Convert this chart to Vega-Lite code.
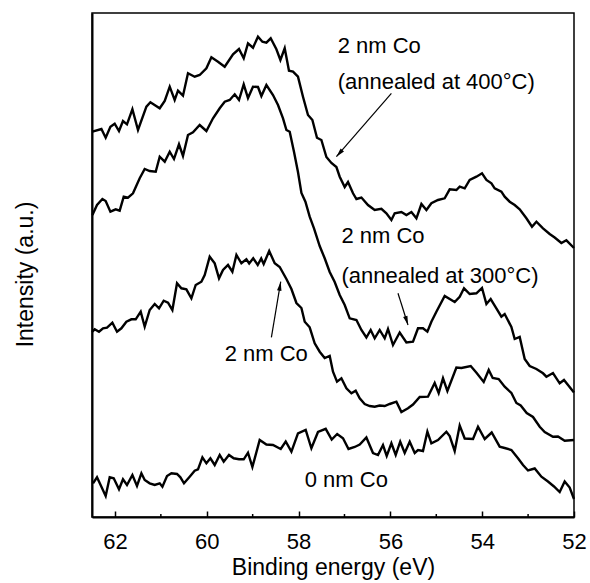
{
  "$schema": "https://vega.github.io/schema/vega-lite/v6.json",
  "width": 482,
  "height": 504,
  "autosize": {"type": "none"},
  "padding": {"left": 92, "top": 13, "right": 16, "bottom": 66},
  "background": "white",
  "config": {
    "view": {"stroke": "#000", "strokeWidth": 1.5},
    "font": "Liberation Sans"
  },
  "datasets": {
    "spectra": [
      {"s":"400C","E":62.491,"I":385.3},{"s":"400C","E":62.295,"I":388},{"s":"400C","E":62.202,"I":379.3},{"s":"400C","E":62.099,"I":390.3},{"s":"400C","E":62.006,"I":393.3},{"s":"400C","E":61.912,"I":386},{"s":"400C","E":61.825,"I":396},{"s":"400C","E":61.738,"I":392.7},{"s":"400C","E":61.62,"I":407.7},{"s":"400C","E":61.498,"I":387},{"s":"400C","E":61.315,"I":410.3},{"s":"400C","E":61.228,"I":414.7},{"s":"400C","E":61.025,"I":408.7},{"s":"400C","E":60.916,"I":416},{"s":"400C","E":60.807,"I":430.3},{"s":"400C","E":60.699,"I":417},{"s":"400C","E":60.627,"I":426.3},{"s":"400C","E":60.518,"I":421.3},{"s":"400C","E":60.409,"I":443.7},{"s":"400C","E":60.263,"I":440.3},{"s":"400C","E":60.154,"I":442},{"s":"400C","E":60.008,"I":448.7},{"s":"400C","E":59.899,"I":459.7},{"s":"400C","E":59.755,"I":455.3},{"s":"400C","E":59.609,"I":450.3},{"s":"400C","E":59.428,"I":462.7},{"s":"400C","E":59.298,"I":468},{"s":"400C","E":59.195,"I":458.7},{"s":"400C","E":59.102,"I":473.7},{"s":"400C","E":58.993,"I":469.3},{"s":"400C","E":58.884,"I":480.3},{"s":"400C","E":58.788,"I":475.3},{"s":"400C","E":58.701,"I":474.3},{"s":"400C","E":58.607,"I":478.7},{"s":"400C","E":58.483,"I":467.7},{"s":"400C","E":58.396,"I":457},{"s":"400C","E":58.302,"I":468.7},{"s":"400C","E":58.209,"I":446.3},{"s":"400C","E":58.121,"I":445.3},{"s":"400C","E":58.013,"I":440.3},{"s":"400C","E":57.904,"I":420.3},{"s":"400C","E":57.795,"I":402},{"s":"400C","E":57.699,"I":397},{"s":"400C","E":57.599,"I":379.3},{"s":"400C","E":57.503,"I":377},{"s":"400C","E":57.394,"I":360},{"s":"400C","E":57.285,"I":354},{"s":"400C","E":57.176,"I":350},{"s":"400C","E":57.104,"I":340.3},{"s":"400C","E":56.995,"I":330},{"s":"400C","E":56.923,"I":335},{"s":"400C","E":56.814,"I":323.7},{"s":"400C","E":56.74,"I":318},{"s":"400C","E":56.631,"I":319.5},{"s":"400C","E":56.488,"I":312},{"s":"400C","E":56.342,"I":307},{"s":"400C","E":56.196,"I":308.2},{"s":"400C","E":56.087,"I":303.7},{"s":"400C","E":55.978,"I":297},{"s":"400C","E":55.906,"I":303.7},{"s":"400C","E":55.76,"I":305},{"s":"400C","E":55.651,"I":302},{"s":"400C","E":55.542,"I":305},{"s":"400C","E":55.433,"I":298.7},{"s":"400C","E":55.324,"I":313},{"s":"400C","E":55.215,"I":307},{"s":"400C","E":55.107,"I":313.7},{"s":"400C","E":54.963,"I":317},{"s":"400C","E":54.817,"I":318.7},{"s":"400C","E":54.708,"I":327.7},{"s":"400C","E":54.562,"I":327},{"s":"400C","E":54.49,"I":330.3},{"s":"400C","E":54.381,"I":328.7},{"s":"400C","E":54.272,"I":337},{"s":"400C","E":54.126,"I":340.3},{"s":"400C","E":54.004,"I":343.7},{"s":"400C","E":53.908,"I":337},{"s":"400C","E":53.799,"I":333.7},{"s":"400C","E":53.728,"I":328.7},{"s":"400C","E":53.582,"I":325.3},{"s":"400C","E":53.51,"I":320.3},{"s":"400C","E":53.401,"I":315.3},{"s":"400C","E":53.292,"I":312},{"s":"400C","E":53.183,"I":307.7},{"s":"400C","E":53.037,"I":298.7},{"s":"400C","E":52.915,"I":290.3},{"s":"400C","E":52.819,"I":295.3},{"s":"400C","E":52.675,"I":288.7},{"s":"400C","E":52.53,"I":283},{"s":"400C","E":52.421,"I":279.5},{"s":"400C","E":52.275,"I":274},{"s":"400C","E":52.166,"I":276.7},{"s":"400C","E":52.0,"I":269},

      {"s":"300C","E":62.491,"I":302},{"s":"300C","E":62.391,"I":312},{"s":"300C","E":62.273,"I":318},{"s":"300C","E":62.202,"I":316},{"s":"300C","E":62.099,"I":305.3},{"s":"300C","E":61.984,"I":307.7},{"s":"300C","E":61.897,"I":306.3},{"s":"300C","E":61.809,"I":320.3},{"s":"300C","E":61.716,"I":319.3},{"s":"300C","E":61.607,"I":323.7},{"s":"300C","E":61.461,"I":338.7},{"s":"300C","E":61.352,"I":348},{"s":"300C","E":61.243,"I":346},{"s":"300C","E":61.112,"I":345.3},{"s":"300C","E":61.025,"I":360.3},{"s":"300C","E":60.916,"I":355.3},{"s":"300C","E":60.807,"I":365.3},{"s":"300C","E":60.714,"I":358},{"s":"300C","E":60.605,"I":372.7},{"s":"300C","E":60.518,"I":361},{"s":"300C","E":60.409,"I":382},{"s":"300C","E":60.3,"I":384.7},{"s":"300C","E":60.154,"I":392},{"s":"300C","E":60.008,"I":386},{"s":"300C","E":59.864,"I":398.7},{"s":"300C","E":59.718,"I":408.7},{"s":"300C","E":59.609,"I":415.3},{"s":"300C","E":59.5,"I":417},{"s":"300C","E":59.391,"I":422.7},{"s":"300C","E":59.298,"I":417},{"s":"300C","E":59.195,"I":432.7},{"s":"300C","E":59.102,"I":419},{"s":"300C","E":58.993,"I":430.3},{"s":"300C","E":58.884,"I":430},{"s":"300C","E":58.81,"I":421},{"s":"300C","E":58.701,"I":432},{"s":"300C","E":58.557,"I":422},{"s":"300C","E":58.448,"I":412},{"s":"300C","E":58.339,"I":398.7},{"s":"300C","E":58.265,"I":387},{"s":"300C","E":58.193,"I":385.3},{"s":"300C","E":58.1,"I":365.3},{"s":"300C","E":58.013,"I":345},{"s":"300C","E":57.938,"I":324},{"s":"300C","E":57.851,"I":315.3},{"s":"300C","E":57.758,"I":300.3},{"s":"300C","E":57.664,"I":288.7},{"s":"300C","E":57.54,"I":271},{"s":"300C","E":57.431,"I":258.7},{"s":"300C","E":57.322,"I":245},{"s":"300C","E":57.213,"I":235},{"s":"300C","E":57.104,"I":222},{"s":"300C","E":56.995,"I":212},{"s":"300C","E":56.886,"I":198.7},{"s":"300C","E":56.74,"I":197},{"s":"300C","E":56.631,"I":187},{"s":"300C","E":56.523,"I":179.5},{"s":"300C","E":56.429,"I":187},{"s":"300C","E":56.342,"I":178.7},{"s":"300C","E":56.233,"I":187},{"s":"300C","E":56.124,"I":178.7},{"s":"300C","E":56.052,"I":188},{"s":"300C","E":55.943,"I":172},{"s":"300C","E":55.797,"I":184.5},{"s":"300C","E":55.651,"I":174.5},{"s":"300C","E":55.507,"I":175.3},{"s":"300C","E":55.398,"I":188.7},{"s":"300C","E":55.29,"I":188.7},{"s":"300C","E":55.194,"I":185.3},{"s":"300C","E":55.107,"I":195.3},{"s":"300C","E":54.998,"I":205.3},{"s":"300C","E":54.817,"I":221},{"s":"300C","E":54.599,"I":215},{"s":"300C","E":54.49,"I":220.3},{"s":"300C","E":54.396,"I":228.7},{"s":"300C","E":54.272,"I":223},{"s":"300C","E":54.126,"I":223.7},{"s":"300C","E":54.004,"I":229},{"s":"300C","E":53.908,"I":213},{"s":"300C","E":53.815,"I":218},{"s":"300C","E":53.691,"I":208.7},{"s":"300C","E":53.582,"I":200.3},{"s":"300C","E":53.51,"I":203},{"s":"300C","E":53.364,"I":190},{"s":"300C","E":53.292,"I":178},{"s":"300C","E":53.183,"I":180},{"s":"300C","E":53.074,"I":158},{"s":"300C","E":52.965,"I":151},{"s":"300C","E":52.819,"I":148},{"s":"300C","E":52.675,"I":143.7},{"s":"300C","E":52.601,"I":140.3},{"s":"300C","E":52.458,"I":144},{"s":"300C","E":52.312,"I":133.7},{"s":"300C","E":52.218,"I":137},{"s":"300C","E":52.0,"I":124.5},

      {"s":"2nm","E":62.5,"I":185},{"s":"2nm","E":62.441,"I":187.7},{"s":"2nm","E":62.348,"I":185.3},{"s":"2nm","E":62.26,"I":188.7},{"s":"2nm","E":62.173,"I":189.3},{"s":"2nm","E":62.056,"I":194.3},{"s":"2nm","E":61.955,"I":185.3},{"s":"2nm","E":61.86,"I":188.7},{"s":"2nm","E":61.751,"I":195.3},{"s":"2nm","E":61.642,"I":197.7},{"s":"2nm","E":61.548,"I":197.7},{"s":"2nm","E":61.439,"I":205.3},{"s":"2nm","E":61.352,"I":190.3},{"s":"2nm","E":61.243,"I":207},{"s":"2nm","E":61.134,"I":213},{"s":"2nm","E":61.04,"I":208.7},{"s":"2nm","E":60.938,"I":216.3},{"s":"2nm","E":60.844,"I":214.3},{"s":"2nm","E":60.749,"I":207},{"s":"2nm","E":60.648,"I":233.7},{"s":"2nm","E":60.553,"I":228.7},{"s":"2nm","E":60.444,"I":227.7},{"s":"2nm","E":60.335,"I":218.7},{"s":"2nm","E":60.241,"I":232},{"s":"2nm","E":60.117,"I":235.3},{"s":"2nm","E":60.045,"I":242},{"s":"2nm","E":59.936,"I":260.3},{"s":"2nm","E":59.827,"I":253.7},{"s":"2nm","E":59.733,"I":238.7},{"s":"2nm","E":59.646,"I":247},{"s":"2nm","E":59.537,"I":252},{"s":"2nm","E":59.442,"I":245.3},{"s":"2nm","E":59.354,"I":262},{"s":"2nm","E":59.246,"I":253.7},{"s":"2nm","E":59.137,"I":257.7},{"s":"2nm","E":59.076,"I":253.5},{"s":"2nm","E":58.988,"I":258.7},{"s":"2nm","E":58.89,"I":252},{"s":"2nm","E":58.814,"I":258.5},{"s":"2nm","E":58.76,"I":253},{"s":"2nm","E":58.64,"I":266},{"s":"2nm","E":58.52,"I":253.7},{"s":"2nm","E":58.411,"I":250},{"s":"2nm","E":58.265,"I":238},{"s":"2nm","E":58.156,"I":228},{"s":"2nm","E":58.047,"I":214},{"s":"2nm","E":57.938,"I":209},{"s":"2nm","E":57.866,"I":195.3},{"s":"2nm","E":57.758,"I":189.7},{"s":"2nm","E":57.649,"I":173.7},{"s":"2nm","E":57.54,"I":165.3},{"s":"2nm","E":57.431,"I":159},{"s":"2nm","E":57.322,"I":161},{"s":"2nm","E":57.25,"I":145.3},{"s":"2nm","E":57.163,"I":135.3},{"s":"2nm","E":57.067,"I":138.7},{"s":"2nm","E":56.958,"I":128.7},{"s":"2nm","E":56.849,"I":123.7},{"s":"2nm","E":56.756,"I":126.3},{"s":"2nm","E":56.668,"I":118.7},{"s":"2nm","E":56.56,"I":113},{"s":"2nm","E":56.451,"I":111},{"s":"2nm","E":56.342,"I":110.3},{"s":"2nm","E":56.233,"I":111.5},{"s":"2nm","E":56.124,"I":111},{"s":"2nm","E":56.015,"I":113},{"s":"2nm","E":55.869,"I":115.3},{"s":"2nm","E":55.76,"I":105},{"s":"2nm","E":55.616,"I":108.7},{"s":"2nm","E":55.507,"I":112.5},{"s":"2nm","E":55.361,"I":120},{"s":"2nm","E":55.181,"I":120.3},{"s":"2nm","E":55.035,"I":134},{"s":"2nm","E":54.948,"I":124},{"s":"2nm","E":54.854,"I":138.7},{"s":"2nm","E":54.758,"I":126},{"s":"2nm","E":54.562,"I":149.5},{"s":"2nm","E":54.453,"I":149},{"s":"2nm","E":54.25,"I":151},{"s":"2nm","E":54.12,"I":144},{"s":"2nm","E":53.967,"I":135},{"s":"2nm","E":53.858,"I":147},{"s":"2nm","E":53.771,"I":139},{"s":"2nm","E":53.641,"I":138},{"s":"2nm","E":53.51,"I":130.3},{"s":"2nm","E":53.364,"I":124},{"s":"2nm","E":53.255,"I":114},{"s":"2nm","E":53.161,"I":111.5},{"s":"2nm","E":53.03,"I":104},{"s":"2nm","E":52.893,"I":100},{"s":"2nm","E":52.747,"I":90.3},{"s":"2nm","E":52.638,"I":85},{"s":"2nm","E":52.458,"I":80.3},{"s":"2nm","E":52.349,"I":80.5},{"s":"2nm","E":52.203,"I":76.3},{"s":"2nm","E":52.0,"I":77},

      {"s":"0nm","E":62.478,"I":33.7},{"s":"0nm","E":62.391,"I":39.7},{"s":"0nm","E":62.295,"I":30.3},{"s":"0nm","E":62.202,"I":21},{"s":"0nm","E":62.114,"I":39.7},{"s":"0nm","E":62.027,"I":38.7},{"s":"0nm","E":61.912,"I":27.7},{"s":"0nm","E":61.825,"I":37.7},{"s":"0nm","E":61.738,"I":32},{"s":"0nm","E":61.62,"I":42},{"s":"0nm","E":61.52,"I":31},{"s":"0nm","E":61.424,"I":43.7},{"s":"0nm","E":61.352,"I":37},{"s":"0nm","E":61.243,"I":33.7},{"s":"0nm","E":61.134,"I":32},{"s":"0nm","E":61.025,"I":33.7},{"s":"0nm","E":60.966,"I":30.3},{"s":"0nm","E":60.866,"I":41},{"s":"0nm","E":60.77,"I":43.7},{"s":"0nm","E":60.648,"I":43},{"s":"0nm","E":60.574,"I":39.7},{"s":"0nm","E":60.496,"I":33.7},{"s":"0nm","E":60.372,"I":40.3},{"s":"0nm","E":60.263,"I":46.3},{"s":"0nm","E":60.191,"I":47.7},{"s":"0nm","E":60.095,"I":59.7},{"s":"0nm","E":60.008,"I":53.7},{"s":"0nm","E":59.921,"I":58.7},{"s":"0nm","E":59.827,"I":52},{"s":"0nm","E":59.718,"I":62},{"s":"0nm","E":59.631,"I":55.3},{"s":"0nm","E":59.516,"I":62},{"s":"0nm","E":59.413,"I":58.7},{"s":"0nm","E":59.298,"I":57.7},{"s":"0nm","E":59.195,"I":57.7},{"s":"0nm","E":59.102,"I":64.3},{"s":"0nm","E":59.006,"I":50},{"s":"0nm","E":58.847,"I":77},{"s":"0nm","E":58.701,"I":72.5},{"s":"0nm","E":58.557,"I":72},{"s":"0nm","E":58.389,"I":68},{"s":"0nm","E":58.28,"I":75.5},{"s":"0nm","E":58.156,"I":65.3},{"s":"0nm","E":58.013,"I":83.7},{"s":"0nm","E":57.845,"I":87},{"s":"0nm","E":57.721,"I":68.7},{"s":"0nm","E":57.577,"I":85},{"s":"0nm","E":57.409,"I":88.2},{"s":"0nm","E":57.278,"I":77.5},{"s":"0nm","E":57.159,"I":83},{"s":"0nm","E":57.032,"I":78.7},{"s":"0nm","E":56.912,"I":68},{"s":"0nm","E":56.777,"I":70},{"s":"0nm","E":56.668,"I":72.5},{"s":"0nm","E":56.523,"I":79.5},{"s":"0nm","E":56.379,"I":64},{"s":"0nm","E":56.27,"I":62},{"s":"0nm","E":56.161,"I":72},{"s":"0nm","E":56.08,"I":61},{"s":"0nm","E":55.978,"I":73.7},{"s":"0nm","E":55.884,"I":62},{"s":"0nm","E":55.786,"I":75.3},{"s":"0nm","E":55.688,"I":64},{"s":"0nm","E":55.579,"I":75.3},{"s":"0nm","E":55.47,"I":64},{"s":"0nm","E":55.398,"I":67},{"s":"0nm","E":55.29,"I":66},{"s":"0nm","E":55.194,"I":85.3},{"s":"0nm","E":55.107,"I":73.7},{"s":"0nm","E":54.963,"I":77},{"s":"0nm","E":54.78,"I":85.3},{"s":"0nm","E":54.708,"I":81},{"s":"0nm","E":54.599,"I":66},{"s":"0nm","E":54.49,"I":91.5},{"s":"0nm","E":54.381,"I":78.5},{"s":"0nm","E":54.2,"I":78},{"s":"0nm","E":54.091,"I":90.3},{"s":"0nm","E":53.945,"I":78},{"s":"0nm","E":53.793,"I":84.5},{"s":"0nm","E":53.619,"I":70.3},{"s":"0nm","E":53.51,"I":69},{"s":"0nm","E":53.364,"I":67},{"s":"0nm","E":53.22,"I":58.7},{"s":"0nm","E":53.111,"I":52},{"s":"0nm","E":53.002,"I":46.5},{"s":"0nm","E":52.856,"I":48.5},{"s":"0nm","E":52.71,"I":40.3},{"s":"0nm","E":52.567,"I":35.5},{"s":"0nm","E":52.436,"I":30.5},{"s":"0nm","E":52.312,"I":25},{"s":"0nm","E":52.203,"I":35.5},{"s":"0nm","E":52.094,"I":29.5},{"s":"0nm","E":52.0,"I":18}
    ],
    "arrows": [
      {"id":"a400","E1":55.978,"I1":423.7,"E2":57.176,"I2":360.3},
      {"id":"a300","E1":55.834,"I1":223.7,"E2":55.616,"I2":192},
      {"id":"a2nm","E1":58.592,"I1":179.7,"E2":58.389,"I2":235.3}
    ],
    "labels": [
      {"E":57.148,"I":471,"text":"2 nm Co"},
      {"E":57.148,"I":435,"text":"(annealed at 400°C)"},
      {"E":57.067,"I":281,"text":"2 nm Co"},
      {"E":57.067,"I":241,"text":"(annealed at 300°C)"},
      {"E":59.609,"I":163.5,"text":"2 nm Co"},
      {"E":57.866,"I":37,"text":"0 nm Co"}
    ],
    "minor": [{"E":61},{"E":59},{"E":57},{"E":55},{"E":53}]
  },
  "layer": [
    {
      "data": {"name": "spectra"},
      "mark": {"type": "line", "color": "#000", "strokeWidth": 2.4},
      "encoding": {
        "x": {
          "field": "E", "type": "quantitative",
          "scale": {"domain": [62.5, 52], "nice": false, "zero": false},
          "axis": {
            "values": [62, 60, 58, 56, 54, 52],
            "tickSize": -6, "tickWidth": 1.5, "tickColor": "#000",
            "domainColor": "#000", "domainWidth": 2,
            "labelFontSize": 22, "labelColor": "#000", "labelPadding": 20,
            "labelFlush": false, "labelOverlap": false,
            "grid": false,
            "title": "Binding energy (eV)",
            "titleFontSize": 23, "titleFontWeight": "normal", "titleColor": "#000",
            "titleY": 57, "titleBaseline": "alphabetic"
          }
        },
        "y": {
          "field": "I", "type": "quantitative",
          "scale": {"domain": [0, 504], "nice": false},
          "axis": {
            "labels": false, "ticks": false, "grid": false,
            "domainColor": "#000", "domainWidth": 2,
            "title": "Intensity (a.u.)",
            "titleFontSize": 23, "titleFontWeight": "normal", "titleColor": "#000",
            "titleX": -60, "titleY": 261, "titleAlign": "center", "titleBaseline": "alphabetic"
          }
        },
        "detail": {"field": "s", "type": "nominal"}
      }
    },
    {
      "data": {"name": "minor"},
      "mark": {"type": "rule", "color": "#000", "strokeWidth": 1.5},
      "encoding": {
        "x": {"field": "E", "type": "quantitative"},
        "y": {"datum": 0},
        "y2": {"datum": 3}
      }
    },
    {
      "data": {"name": "arrows"},
      "mark": {"type": "rule", "color": "#000", "strokeWidth": 1.2},
      "encoding": {
        "x": {"field": "E1", "type": "quantitative"},
        "y": {"field": "I1", "type": "quantitative"},
        "x2": {"field": "E2"},
        "y2": {"field": "I2"}
      }
    },
    {
      "data": {"name": "arrows"},
      "transform": [{"filter": "datum.id === 'a400'"}],
      "mark": {"type": "point", "shape": "M0,0L0.5,2L-0.5,2Z", "filled": true, "color": "#000", "opacity": 1, "size": 81, "angle": 221},
      "encoding": {
        "x": {"field": "E2", "type": "quantitative"},
        "y": {"field": "I2", "type": "quantitative"}
      }
    },
    {
      "data": {"name": "arrows"},
      "transform": [{"filter": "datum.id === 'a300'"}],
      "mark": {"type": "point", "shape": "M0,0L0.5,2L-0.5,2Z", "filled": true, "color": "#000", "opacity": 1, "size": 81, "angle": 162.5},
      "encoding": {
        "x": {"field": "E2", "type": "quantitative"},
        "y": {"field": "I2", "type": "quantitative"}
      }
    },
    {
      "data": {"name": "arrows"},
      "transform": [{"filter": "datum.id === 'a2nm'"}],
      "mark": {"type": "point", "shape": "M0,0L0.5,2L-0.5,2Z", "filled": true, "color": "#000", "opacity": 1, "size": 81, "angle": 9.5},
      "encoding": {
        "x": {"field": "E2", "type": "quantitative"},
        "y": {"field": "I2", "type": "quantitative"}
      }
    },
    {
      "data": {"name": "labels"},
      "mark": {"type": "text", "align": "left", "baseline": "middle", "fontSize": 22, "color": "#000"},
      "encoding": {
        "x": {"field": "E", "type": "quantitative"},
        "y": {"field": "I", "type": "quantitative"},
        "text": {"field": "text", "type": "nominal"}
      }
    }
  ]
}
